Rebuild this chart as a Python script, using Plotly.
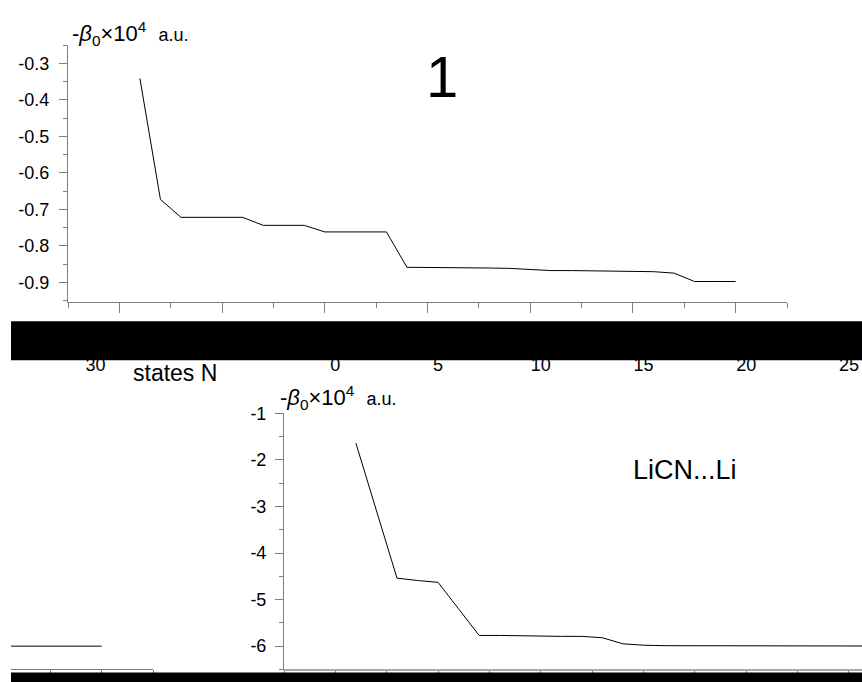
import plotly.graph_objects as go

W, H = 862, 682

# ---- data ----
n_top = list(range(1, 31))
beta_top = [-0.341, -0.673, -0.722, -0.722, -0.722, -0.722, -0.744, -0.744, -0.744, -0.762,
            -0.762, -0.762, -0.762, -0.859, -0.859, -0.859, -0.860, -0.861, -0.862, -0.865,
            -0.868, -0.868, -0.869, -0.869, -0.870, -0.871, -0.875, -0.898, -0.898, -0.898]

n_low = list(range(1, 31))
beta_low = [-1.64, -3.09, -4.54, -4.59, -4.63, -5.20, -5.77, -5.77, -5.78, -5.78,
            -5.79, -5.79, -5.82, -5.95, -5.98, -5.99, -5.99, -6.00, -6.00, -6.00,
            -6.00, -6.00, -6.00, -6.00, -6.00, -6.00, -6.00, -6.00, -6.00, -6.00]

top_ytick_vals = [-0.3, -0.4, -0.5, -0.6, -0.7, -0.8, -0.9]
top_ytick_text = ["-0.3", "-0.4", "-0.5", "-0.6", "-0.7", "-0.8", "-0.9"]
low_ytick_vals = [-1, -2, -3, -4, -5, -6]
low_ytick_text = ["-1", "-2", "-3", "-4", "-5", "-6"]
x_tick_vals = [0, 5, 10, 15, 20, 25, 30]
x_tick_text = ["0", "5", "10", "15", "20", "25", "30"]

FONT = "Liberation Sans, Arial, sans-serif"
AX = "#7f7f7f"

# the captured page is shifted/squeezed vertically a little; map target pixels accordingly
V_OFF, V_SC = 9.8, 0.985


def px(x):
    return x / W


def py(y):
    return 1 - ((y - V_OFF) / V_SC) / H


fig = go.Figure()
line = dict(color="black", width=1)
fig.add_trace(go.Scatter(x=n_top, y=beta_top, mode="lines", line=line, xaxis="x", yaxis="y",
                         showlegend=False, hoverinfo="skip"))
fig.add_trace(go.Scatter(x=n_low, y=beta_low, mode="lines", line=line, xaxis="x2", yaxis="y2",
                         showlegend=False, hoverinfo="skip"))
fig.add_trace(go.Scatter(x=n_low, y=beta_low, mode="lines", line=line, xaxis="x4", yaxis="y4",
                         showlegend=False, hoverinfo="skip"))
# invisible carriers for label-only axes
fig.add_trace(go.Scatter(x=n_low, y=beta_low, mode="lines", line=dict(width=0), xaxis="x3", yaxis="y2",
                         showlegend=False, hoverinfo="skip"))
fig.add_trace(go.Scatter(x=n_low, y=beta_low, mode="lines", line=dict(width=0), xaxis="x5", yaxis="y4",
                         showlegend=False, hoverinfo="skip"))

tickfont = dict(family=FONT, size=18, color="black")
scale = 719 / 35.0  # px per unit N

common_x = dict(showgrid=False, zeroline=False, showline=True, linecolor=AX, linewidth=1,
                ticks="outside", tickcolor=AX, ticklen=10, tickfont=tickfont,
                tickvals=x_tick_vals, ticktext=x_tick_text,
                minor=dict(ticks="outside", ticklen=5, tickcolor=AX, dtick=2.5, tick0=0))

fig.update_layout(
    width=W, height=H, margin=dict(l=0, r=0, t=0, b=0),
    paper_bgcolor="white", plot_bgcolor="rgba(0,0,0,0)",
    xaxis=dict(domain=[px(68), px(787)], range=[-2.5, 32.5], anchor="y", **common_x),
    yaxis=dict(domain=[py(302), py(45)], range=[-0.955, -0.25], anchor="x",
               showgrid=False, zeroline=False, showline=True, linecolor=AX, linewidth=1,
               ticks="outside", tickcolor=AX, ticklen=8, tickfont=tickfont,
               ticklabelstandoff=6,
               tickvals=top_ytick_vals, ticktext=top_ytick_text,
               minor=dict(ticks="outside", ticklen=4, tickcolor=AX, dtick=0.05, tick0=0)),
    xaxis2=dict(domain=[px(284), 1], range=[-2.5, -2.5 + (W - 284) / scale], anchor="y2",
                **{**common_x, "linewidth": 2, "linecolor": "#a8a8a8", "showticklabels": False}),
    yaxis2=dict(domain=[py(669), py(413)], range=[-6.5, -1], anchor="x2",
                showgrid=False, zeroline=False, showline=True, linecolor=AX, linewidth=1,
                ticks="outside", tickcolor=AX, ticklen=8, tickfont=tickfont,
                ticklabelstandoff=5,
                tickvals=low_ytick_vals, ticktext=low_ytick_text,
                minor=dict(ticks="outside", ticklen=4, tickcolor=AX, dtick=0.5, tick0=0)),
    xaxis3=dict(domain=[px(284), 1], range=[-2.5, -2.5 + (W - 284) / scale], overlaying="x2",
                anchor="free", position=py(352), showline=False, ticks="", showgrid=False,
                zeroline=False, tickfont=tickfont, tickvals=x_tick_vals, ticktext=x_tick_text),
    xaxis4=dict(domain=[px(11), px(153)], range=[32.5 - 142 / scale, 32.5], anchor="y4",
                **{**common_x, "showticklabels": False}),
    yaxis4=dict(domain=[py(669), py(413)], range=[-6.5, -1], anchor="x4", visible=False),
    xaxis5=dict(domain=[px(11), px(153)], range=[32.5 - 142 / scale, 32.5], overlaying="x4",
                anchor="free", position=py(352), showline=False, ticks="", showgrid=False,
                zeroline=False, tickfont=tickfont, tickvals=[29.7], ticktext=["30"]),
)

beta_label = ("-<i>β</i><sub>0</sub>×10<sup>4</sup>&nbsp;&nbsp;"
              "<span style='font-size:18px'>a.u.</span>")
ann = [
    dict(text=beta_label, x=px(70), y=py(51), xanchor="left", yanchor="bottom"),
    dict(text=beta_label, x=px(278), y=py(415), xanchor="left", yanchor="bottom"),
    dict(text="1", x=px(442), y=py(76), xanchor="center", yanchor="middle",
         font=dict(family=FONT, size=58, color="black")),
    dict(text="states N", x=px(175), y=py(373), xanchor="center", yanchor="middle",
         font=dict(family=FONT, size=23, color="black")),
    dict(text="LiCN...Li", x=px(685), y=py(470), xanchor="center", yanchor="middle",
         font=dict(family=FONT, size=27, color="black")),
]
for a in ann:
    a.setdefault("font", dict(family=FONT, size=22, color="black"))
    a.update(xref="paper", yref="paper", showarrow=False)
fig.update_layout(annotations=ann)

fig.update_layout(shapes=[
    dict(type="rect", xref="paper", yref="paper", x0=px(11), x1=1, y0=py(360), y1=py(321),
         fillcolor="black", line=dict(width=0), layer="above"),
    dict(type="rect", xref="paper", yref="paper", x0=px(11), x1=1, y0=0, y1=py(672),
         fillcolor="black", line=dict(width=0), layer="above"),
])

post = (
    "document.documentElement.style.margin='0';"
    "document.documentElement.style.overflow='hidden';"
    "document.body.style.margin='0';"
    "document.body.style.overflow='hidden';"
)
fig.write_html("out.html", config={"displayModeBar": False}, post_script=post)
